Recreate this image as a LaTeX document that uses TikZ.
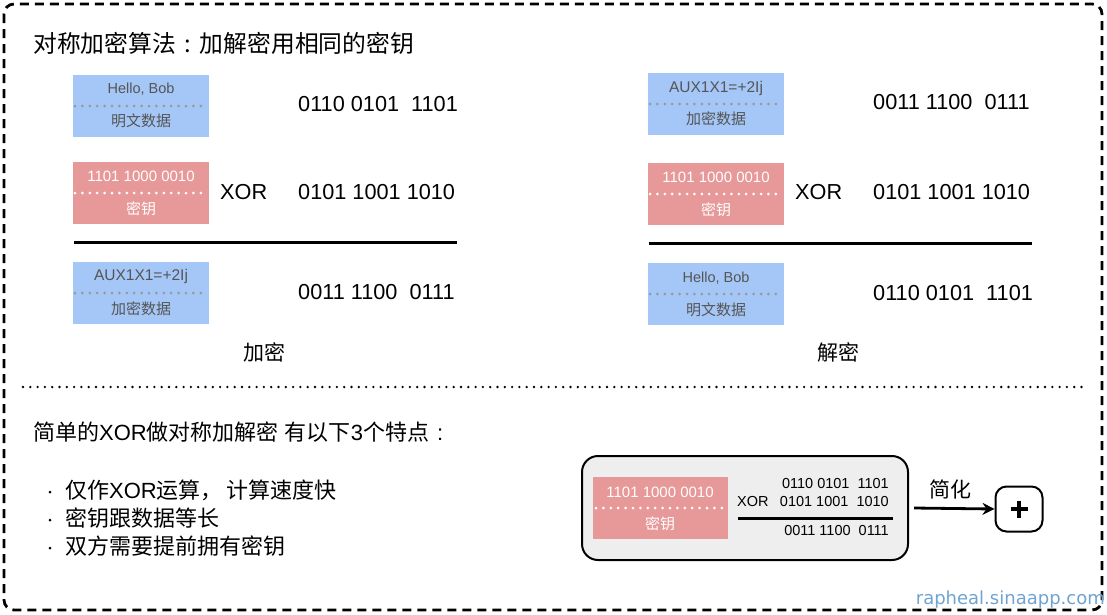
\documentclass[tikz,border=0pt]{standalone}
\usepackage{fontspec}
\setmainfont{Liberation Sans}
\newfontfamily\cjk{Noto Sans CJK SC}
\newfontfamily\dvs{DejaVu Sans}
\usetikzlibrary{arrows.meta}
\definecolor{boxblue}{HTML}{A4C7F7}
\definecolor{boxred}{HTML}{E79898}
\definecolor{lbl}{HTML}{555555}
\definecolor{dotgray}{HTML}{999999}
\definecolor{panelgray}{HTML}{EEEEEE}
\definecolor{wm}{HTML}{6FA3D0}
\newcommand{\fwcolon}{\makebox[1em][c]{:}}
\begin{document}
\begin{tikzpicture}[x=1pt,y=-1pt,
  bluebox/.style={fill=boxblue,draw=none,minimum width=136pt,minimum height=62pt,inner sep=0pt},
  redbox/.style={fill=boxred,draw=none,minimum width=136pt,minimum height=62pt,inner sep=0pt},
  lbltxt/.style={inner sep=0pt,text=lbl,font=\fontsize{14.5}{16}\selectfont},
  auxtxt/.style={inner sep=0pt,text=lbl,font=\fontsize{15.5}{17}\selectfont},
  lblcjk/.style={inner sep=0pt,text=lbl,font=\cjk\fontsize{15}{17}\selectfont},
  whtxt/.style={inner sep=0pt,text=white,font=\fontsize{15}{16}\selectfont},
  whcjk/.style={inner sep=0pt,text=white,font=\cjk\fontsize{15}{17}\selectfont},
  dotsg/.style={draw=dotgray,line width=3pt,line cap=round,dash pattern=on 0pt off 7.4pt},
  dotsw/.style={draw=white,line width=3pt,line cap=round,dash pattern=on 0pt off 7.4pt},
  num/.style={inner sep=0pt,anchor=west,font=\fontsize{21.7}{24}\selectfont},
  snum/.style={inner sep=0pt,font=\fontsize{14.5}{16}\selectfont},
  bigcjk/.style={inner sep=0pt,anchor=west,font=\cjk\fontsize{23.8}{26}\selectfont},
  rule/.style={line width=3pt},
  bullet/.style={inner sep=0pt,anchor=west,font=\fontsize{22}{26}\selectfont},
  dotmark/.style={circle,fill=black,inner sep=0pt,minimum size=3pt},
]
\useasboundingbox (0,0) rectangle (1107,614);
% outer frame
\draw[line width=2.8pt,dash pattern=on 9pt off 6pt,rounded corners=10pt] (4,4) rectangle (1102,610);
% separator
\coordinate (sepL) at (23,387);
\coordinate (sepR) at (1083,387);
\draw[line width=2.6pt,line cap=round,dash pattern=on 0pt off 7.3pt] (sepL) -- (sepR);

% title
\node[bigcjk] (title) at (33,43) {对称加密算法\fwcolon 加解密用相同的密钥};

% ---------- left (encrypt) ----------
\node[bluebox] (L1) at (141,106) {};
\node[lbltxt] (L1a) at (141,89) {Hello, Bob};
\coordinate (L1d1) at (75,106); \coordinate (L1d2) at (205,106);
\draw[dotsg] (L1d1) -- (L1d2);
\node[lblcjk] (L1b) at (141,121) {明文数据};
\node[num] (L1n) at (298,104) {0110 0101~~1101};

\node[redbox] (L2) at (141,193) {};
\node[whtxt] (L2a) at (141,176) {1101 1000 0010};
\coordinate (L2d1) at (75,193); \coordinate (L2d2) at (205,193);
\draw[dotsw] (L2d1) -- (L2d2);
\node[whcjk] (L2b) at (141,209) {密钥};
\node[num] (L2x) at (220,192) {XOR};
\node[num] (L2n) at (298,192) {0101 1001 1010};

\coordinate (Lr1) at (74,242); \coordinate (Lr2) at (457,242);
\draw[rule] (Lr1) -- (Lr2);

\node[bluebox] (L3) at (141,293) {};
\node[auxtxt] (L3a) at (141,276) {AUX1X1=+2Ij};
\coordinate (L3d1) at (75,293); \coordinate (L3d2) at (205,293);
\draw[dotsg] (L3d1) -- (L3d2);
\node[lblcjk] (L3b) at (141,309) {加密数据};
\node[num] (L3n) at (298,292) {0011 1100~~0111};

\node[inner sep=0pt,font=\cjk\fontsize{21}{24}\selectfont] (enc) at (264,352) {加密};

% ---------- right (decrypt) ----------
\node[bluebox] (R1) at (716,104) {};
\node[auxtxt] (R1a) at (716,88) {AUX1X1=+2Ij};
\coordinate (R1d1) at (650,104); \coordinate (R1d2) at (780,104);
\draw[dotsg] (R1d1) -- (R1d2);
\node[lblcjk] (R1b) at (716,119) {加密数据};
\node[num] (R1n) at (873,102) {0011 1100~~0111};

\node[redbox] (R2) at (716,194) {};
\node[whtxt] (R2a) at (716,177) {1101 1000 0010};
\coordinate (R2d1) at (650,194); \coordinate (R2d2) at (780,194);
\draw[dotsw] (R2d1) -- (R2d2);
\node[whcjk] (R2b) at (716,210) {密钥};
\node[num] (R2x) at (795,192) {XOR};
\node[num] (R2n) at (873,192) {0101 1001 1010};

\coordinate (Rr1) at (649,243); \coordinate (Rr2) at (1032,243);
\draw[rule] (Rr1) -- (Rr2);

\node[bluebox] (R3) at (716,294) {};
\node[lbltxt] (R3a) at (716,278) {Hello, Bob};
\coordinate (R3d1) at (650,294); \coordinate (R3d2) at (780,294);
\draw[dotsg] (R3d1) -- (R3d2);
\node[lblcjk] (R3b) at (716,310) {明文数据};
\node[num] (R3n) at (873,293) {0110 0101~~1101};

\node[inner sep=0pt,font=\cjk\fontsize{21}{24}\selectfont] (dec) at (838,352) {解密};

% ---------- bottom ----------
\node[bullet] (sub) at (33,432)
  {{\cjk 简单的}XOR{\cjk 做对称加解密}~{\cjk 有以下}3{\cjk 个特点}\fwcolon};
\node[dotmark] (d1) at (50,492) {};
\node[bullet] (b1) at (65,490) {{\cjk 仅作}XOR{\cjk 运算，}\hspace{4pt}{\cjk 计算速度快}};
\node[dotmark] (d2) at (50,520) {};
\node[bullet] (b2) at (65,518) {{\cjk 密钥跟数据等长}};
\node[dotmark] (d3) at (50,548) {};
\node[bullet] (b3) at (65,546) {{\cjk 双方需要提前拥有密钥}};

% panel
\node[draw=black,line width=2pt,fill=panelgray,rounded corners=16pt,minimum width=326pt,minimum height=104pt,inner sep=0pt] (panel) at (745,508) {};
\node[redbox,minimum width=135pt,minimum height=62pt] (P1) at (660.5,508) {};
\node[whtxt] (P1a) at (660,492) {1101 1000 0010};
\coordinate (Pd1) at (596,508); \coordinate (Pd2) at (724,508);
\draw[dotsw] (Pd1) -- (Pd2);
\node[whcjk] (P1b) at (660,524) {密钥};
\node[snum,anchor=east] (Pn1) at (889,483) {0110 0101~~1101};
\node[snum,anchor=west] (Px) at (737,501) {XOR};
\node[snum,anchor=east] (Pn2) at (889,501) {0101 1001~~1010};
\coordinate (Pr1) at (738,518); \coordinate (Pr2) at (893,518);
\draw[rule] (Pr1) -- (Pr2);
\node[snum,anchor=east] (Pn3) at (889,530) {0011 1100~~0111};

% plus node and arrow
\node[draw=black,line width=2pt,rounded corners=11pt,minimum width=47pt,minimum height=45pt,inner sep=0pt] (plus) at (1019,509) {};
\draw[line width=3.4pt] (plus.center) ++(-8.5,0) coordinate (ph1) -- ++(17,0) coordinate (ph2);
\draw[line width=3.4pt] (plus.center) ++(0,-8.5) coordinate (pv1) -- ++(0,17) coordinate (pv2);
\draw[line width=2.8pt,-{Stealth[length=12pt,width=12pt]}] (panel.east) ++(5,0) coordinate (ast) -- (plus.west);
\node[inner sep=0pt,font=\cjk\fontsize{21}{24}\selectfont] (simp) at (950,489) {简化};

% watermark
\node[inner sep=0pt,anchor=east,text=wm,font=\dvs\fontsize{18}{20}\selectfont] (wmk) at (1105,600) {rapheal.sinaapp.com};
\end{tikzpicture}
\end{document}
